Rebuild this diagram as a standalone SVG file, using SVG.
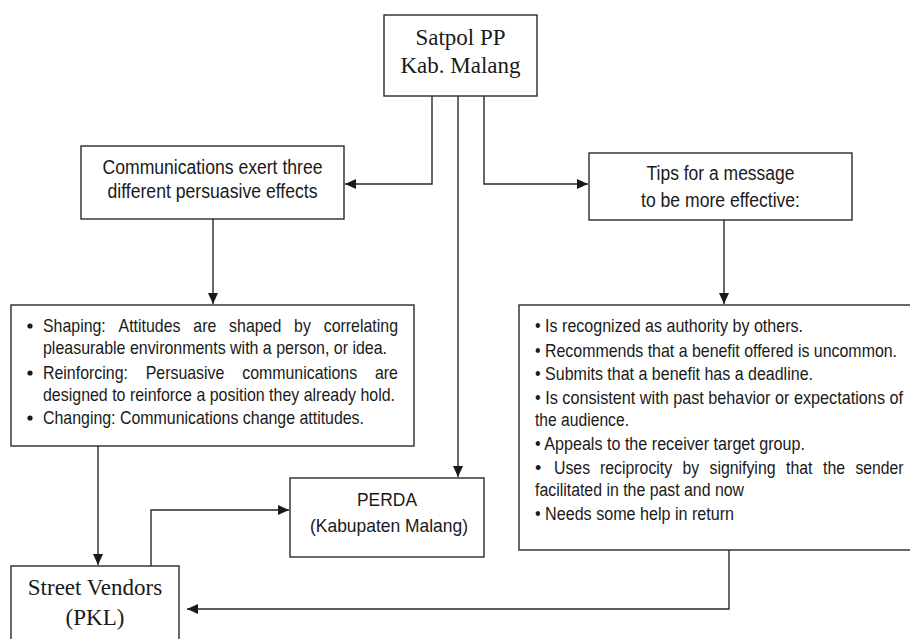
<svg xmlns="http://www.w3.org/2000/svg" width="910" height="639" viewBox="0 0 910 639">
<style>
.box{fill:#fff;stroke:#2a2a2a;stroke-width:1.4}
.ln{fill:none;stroke:#2a2a2a;stroke-width:1.4}
.serif{font-family:"Liberation Serif","Times New Roman",serif;font-size:23px;fill:#1a1a1a;text-anchor:middle}
.sans{font-family:"Liberation Sans",Arial,sans-serif;fill:#1a1a1a}
.c{text-anchor:middle;font-size:20px}
.l{font-size:18.5px}
.r{font-size:18px}
</style>
<defs>
<marker id="arr" markerUnits="userSpaceOnUse" markerWidth="12" markerHeight="10" refX="11" refY="5" orient="auto">
<path d="M0,0 L11,5 L0,10 z" fill="#1a1a1a"/>
</marker>
</defs>
<rect width="910" height="639" fill="#fff"/>

<g id="connectors">
<path class="ln" d="M432,96 V184 H345" marker-end="url(#arr)"/>
<path class="ln" d="M484,96 V184 H588" marker-end="url(#arr)"/>
<path class="ln" d="M458,96 V477" marker-end="url(#arr)"/>
<path class="ln" d="M213,219 V304" marker-end="url(#arr)"/>
<path class="ln" d="M724,220 V304" marker-end="url(#arr)"/>
<path class="ln" d="M98,446 V565" marker-end="url(#arr)"/>
<path class="ln" d="M151,566 V510 H289" marker-end="url(#arr)"/>
<path class="ln" d="M729,550 V609 H187" marker-end="url(#arr)"/>
</g>

<g id="satpol">
<rect class="box" x="384" y="15" width="153" height="81"/>
<text class="serif" x="460.5" y="45">Satpol PP</text>
<text class="serif" x="460.5" y="73">Kab. Malang</text>
</g>

<g id="communications">
<rect class="box" x="81" y="146" width="263" height="73"/>
<text class="sans c" x="212.5" y="174" textLength="220" lengthAdjust="spacingAndGlyphs">Communications exert three</text>
<text class="sans c" x="212.5" y="198" textLength="210" lengthAdjust="spacingAndGlyphs">different persuasive effects</text>
</g>

<g id="tips">
<rect class="box" x="589" y="153" width="263" height="67"/>
<text class="sans c" x="720.5" y="180" textLength="148" lengthAdjust="spacingAndGlyphs">Tips for a message</text>
<text class="sans c" x="720.5" y="207" textLength="159" lengthAdjust="spacingAndGlyphs">to be more effective:</text>
</g>

<g id="effects">
<rect class="box" x="11" y="305" width="403" height="141"/>
<circle cx="30" cy="326" r="2.6" fill="#1a1a1a"/>
<circle cx="30" cy="373" r="2.6" fill="#1a1a1a"/>
<circle cx="30" cy="418" r="2.6" fill="#1a1a1a"/>
<text class="sans l" x="43" y="332" textLength="62.8" lengthAdjust="spacingAndGlyphs">Shaping:</text>
<text class="sans l" x="118.6" y="332" textLength="61.9" lengthAdjust="spacingAndGlyphs">Attitudes</text>
<text class="sans l" x="193.3" y="332" textLength="23" lengthAdjust="spacingAndGlyphs">are</text>
<text class="sans l" x="229.1" y="332" textLength="52.2" lengthAdjust="spacingAndGlyphs">shaped</text>
<text class="sans l" x="294.1" y="332" textLength="16.8" lengthAdjust="spacingAndGlyphs">by</text>
<text class="sans l" x="323.7" y="332" textLength="74.3" lengthAdjust="spacingAndGlyphs">correlating</text>
<text class="sans l" x="43" y="354" textLength="344" lengthAdjust="spacingAndGlyphs">pleasurable environments with a person, or idea.</text>
<text class="sans l" x="43" y="379" textLength="84.9" lengthAdjust="spacingAndGlyphs">Reinforcing:</text>
<text class="sans l" x="145.7" y="379" textLength="78.7" lengthAdjust="spacingAndGlyphs">Persuasive</text>
<text class="sans l" x="242.2" y="379" textLength="114.9" lengthAdjust="spacingAndGlyphs">communications</text>
<text class="sans l" x="374.9" y="379" textLength="23" lengthAdjust="spacingAndGlyphs">are</text>
<text class="sans l" x="43" y="401" textLength="352" lengthAdjust="spacingAndGlyphs">designed to reinforce a position they already hold.</text>
<text class="sans l" x="43" y="424" textLength="321" lengthAdjust="spacingAndGlyphs">Changing: Communications change attitudes.</text>
</g>

<g id="tips-list">
<rect class="box" x="519" y="305" width="400" height="245"/>
<text class="sans r" x="535" y="332" textLength="268" lengthAdjust="spacingAndGlyphs">• Is recognized as authority by others.</text>
<text class="sans r" transform="translate(535 357) scale(0.88 1)" x="0" y="0" textLength="411.4" lengthAdjust="spacingAndGlyphs">• Recommends that a benefit offered is uncommon.</text>
<text class="sans r" x="535" y="380" textLength="278" lengthAdjust="spacingAndGlyphs">• Submits that a benefit has a deadline.</text>
<text class="sans r" transform="translate(535 404) scale(0.88 1)" x="0" y="0" textLength="418.2" lengthAdjust="spacingAndGlyphs">• Is consistent with past behavior or expectations of</text>
<text class="sans r" x="535" y="426" textLength="94" lengthAdjust="spacingAndGlyphs">the audience.</text>
<text class="sans r" x="535" y="450" textLength="270" lengthAdjust="spacingAndGlyphs">• Appeals to the receiver target group.</text>
<text class="sans r" x="535" y="474">•</text>
<text class="sans r" x="554" y="474" textLength="36.1" lengthAdjust="spacingAndGlyphs">Uses</text>
<text class="sans r" x="600" y="474" textLength="72.2" lengthAdjust="spacingAndGlyphs">reciprocity</text>
<text class="sans r" x="682.5" y="474" textLength="16.7" lengthAdjust="spacingAndGlyphs">by</text>
<text class="sans r" x="709.5" y="474" textLength="66" lengthAdjust="spacingAndGlyphs">signifying</text>
<text class="sans r" x="786" y="474" textLength="26.4" lengthAdjust="spacingAndGlyphs">that</text>
<text class="sans r" x="823" y="474" textLength="22" lengthAdjust="spacingAndGlyphs">the</text>
<text class="sans r" x="855.5" y="474" textLength="48" lengthAdjust="spacingAndGlyphs">sender</text>
<text class="sans r" x="535" y="496" textLength="209" lengthAdjust="spacingAndGlyphs">facilitated in the past and now</text>
<text class="sans r" x="535" y="520" textLength="199" lengthAdjust="spacingAndGlyphs">• Needs some help in return</text>
</g>

<g id="perda">
<rect class="box" x="290" y="478" width="194" height="79"/>
<text class="sans c" x="387" y="506" style="font-size:18.5px" textLength="60" lengthAdjust="spacingAndGlyphs">PERDA</text>
<text class="sans c" x="389" y="532" style="font-size:18.5px" textLength="158" lengthAdjust="spacingAndGlyphs">(Kabupaten Malang)</text>
</g>

<g id="street-vendors">
<rect class="box" x="11" y="566" width="168" height="80"/>
<text class="serif" x="95" y="595">Street Vendors</text>
<text class="serif" x="95" y="625">(PKL)</text>
</g>
</svg>
